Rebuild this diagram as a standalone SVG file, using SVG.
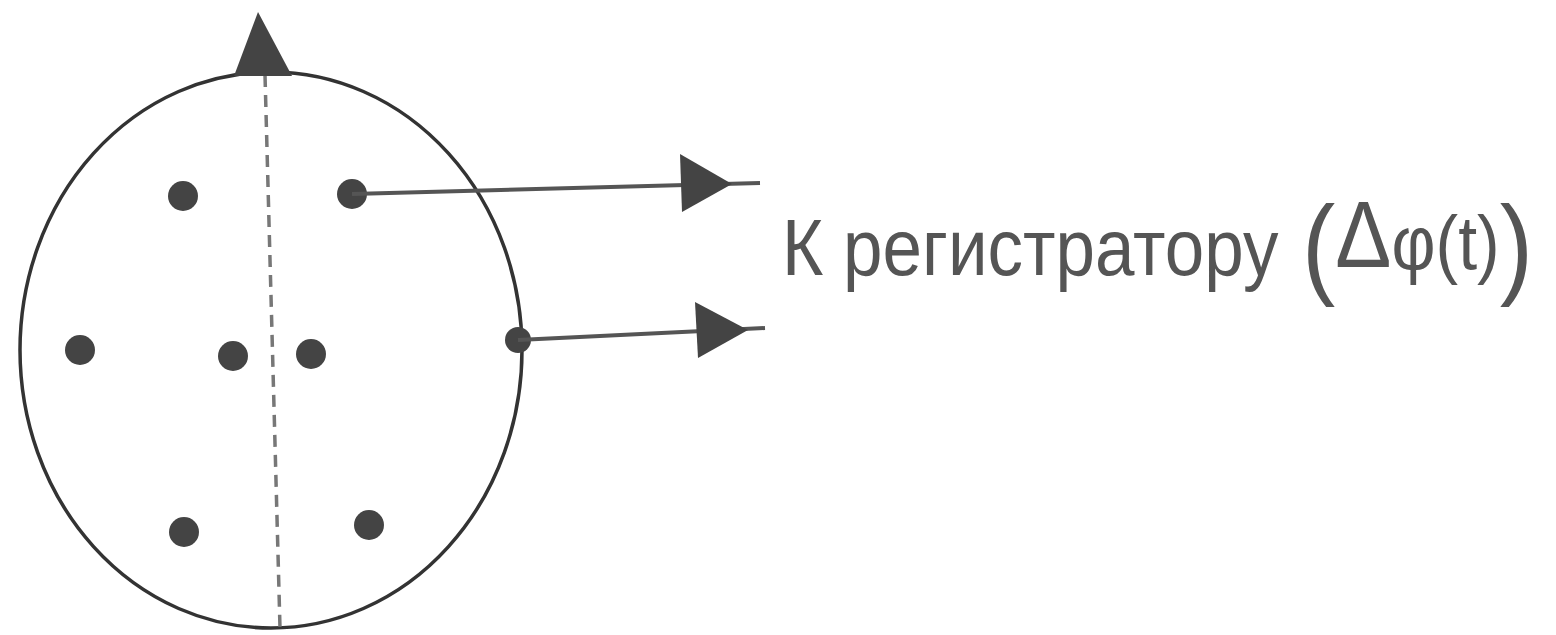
<svg xmlns="http://www.w3.org/2000/svg" width="1556" height="635" viewBox="0 0 1556 635">
<style>
.ln{stroke:#333;fill:none}
.dot{fill:#444}
.txt{font-family:"Liberation Sans",Arial,sans-serif;fill:#555}
</style>
<rect width="1556" height="635" fill="#fff"/>
<g id="head">
<ellipse cx="271" cy="350" rx="251" ry="278" class="ln" stroke-width="3.5"/>
<line x1="265" y1="75" x2="280" y2="628" stroke="#777" stroke-width="3.5" stroke-dasharray="12,8"/>
<path d="M258,12 L292,76 L234,76 Z" fill="#444"/>
</g>
<g id="electrodes">
<circle class="dot" cx="183" cy="196" r="15"/>
<circle class="dot" cx="352" cy="194" r="15"/>
<circle class="dot" cx="80" cy="350" r="15"/>
<circle class="dot" cx="233" cy="356" r="15"/>
<circle class="dot" cx="311" cy="354" r="15"/>
<circle class="dot" cx="518" cy="340" r="13"/>
<circle class="dot" cx="184" cy="532" r="15"/>
<circle class="dot" cx="369" cy="525" r="15"/>
</g>
<g id="connectors">
<line x1="352" y1="194" x2="760" y2="183" stroke="#555" stroke-width="4"/>
<path d="M732,184 L680,154 L682,212 Z" fill="#444"/>
<line x1="518" y1="340" x2="765" y2="328" stroke="#555" stroke-width="4"/>
<path d="M748,330 L695,302 L698,358 Z" fill="#444"/>
</g>
<g id="label" transform="translate(0,275) scale(1,1.12) translate(0,-275)">
<text class="txt" x="782" y="275" font-size="71">К регистратору <tspan x="1302" y="283" font-size="100">(</tspan><tspan y="268" font-size="84">Δ</tspan><tspan y="270" font-size="68">φ(t)</tspan><tspan y="283" font-size="100">)</tspan></text>
</g>
</svg>
